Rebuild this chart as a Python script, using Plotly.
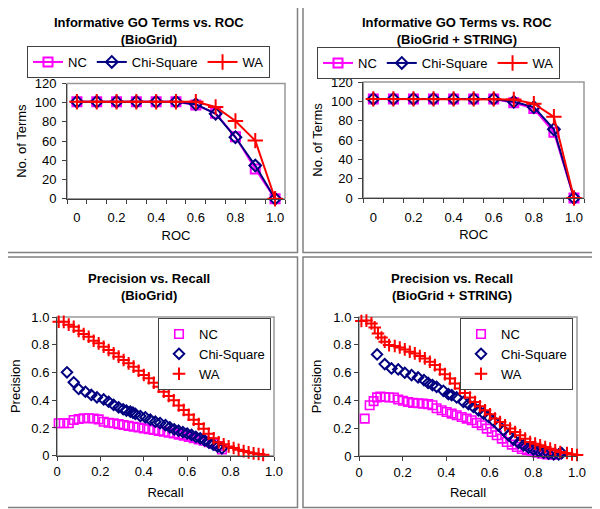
import plotly.graph_objects as go

# ---------------- data ----------------
roc = [0.0, 0.1, 0.2, 0.3, 0.4, 0.5, 0.6, 0.7, 0.8, 0.9, 1.0]
roc_tickvals = [0.0, 0.2, 0.4, 0.6, 0.8, 1.0]
roc_ticktext = ["0", "0.2", "0.4", "0.6", "0.8", "1.0"]
roc_boundaries = [-0.05, 0.05, 0.15, 0.25, 0.35, 0.45, 0.55, 0.65, 0.75, 0.85, 0.95, 1.05]

terms_nc_bg = [101, 101, 101, 101, 101, 101, 97.5, 89, 64.5, 31, 0]
terms_chi_bg = [101, 101, 101, 101, 101, 101, 98.5, 88.5, 64, 34.5, 0]
terms_wa_bg = [101, 101, 101, 101, 101, 101, 101, 95.5, 81, 60.5, 0]

terms_nc_bs = [102.5, 102.5, 102.5, 102.5, 102.5, 102.5, 102.5, 98.5, 92.5, 68, 0]
terms_chi_bs = [102.5, 102.5, 102.5, 102.5, 102.5, 102.5, 102.5, 99.5, 94, 71, 0]
terms_wa_bs = [102.5, 102.5, 102.5, 102.5, 102.5, 102.5, 102.5, 102, 97.5, 84, 0]

pr_tickvals = [0.0, 0.2, 0.4, 0.6, 0.8, 1.0]
pr_ticktext = ["0", "0.2", "0.4", "0.6", "0.8", "1.0"]

# Precision vs Recall (BioGrid)
wa_bg_recall = [0.008, 0.031, 0.054, 0.077, 0.100, 0.123, 0.146, 0.169, 0.192, 0.215, 0.238,
                0.261, 0.284, 0.307, 0.330, 0.353, 0.376, 0.400, 0.423, 0.446, 0.469, 0.492,
                0.515, 0.538, 0.561, 0.584, 0.607, 0.630, 0.653, 0.676, 0.699, 0.722, 0.745,
                0.768, 0.791, 0.814, 0.837, 0.860, 0.883, 0.906, 0.929, 0.950]
wa_bg_precision = [0.966, 0.965, 0.945, 0.930, 0.900, 0.877, 0.858, 0.829, 0.810, 0.786, 0.762,
                   0.738, 0.714, 0.690, 0.666, 0.642, 0.613, 0.582, 0.558, 0.526, 0.497, 0.461,
                   0.430, 0.400, 0.362, 0.330, 0.295, 0.260, 0.228, 0.195, 0.158, 0.125, 0.097,
                   0.082, 0.067, 0.055, 0.042, 0.033, 0.024, 0.017, 0.012, 0.006]
chi_bg_recall = [0.046, 0.077, 0.100, 0.131, 0.158, 0.184, 0.215, 0.238, 0.261, 0.284, 0.305,
                 0.320, 0.338, 0.350, 0.361, 0.384, 0.407, 0.430, 0.453, 0.475, 0.500, 0.520,
                 0.540, 0.560, 0.580, 0.600, 0.620, 0.640, 0.660, 0.680, 0.700, 0.720, 0.740, 0.760]
chi_bg_precision = [0.601, 0.529, 0.481, 0.461, 0.438, 0.421, 0.406, 0.389, 0.366, 0.349, 0.335,
                    0.325, 0.317, 0.310, 0.301, 0.286, 0.277, 0.260, 0.245, 0.235, 0.220, 0.205,
                    0.190, 0.180, 0.170, 0.160, 0.150, 0.135, 0.125, 0.110, 0.095, 0.080, 0.065, 0.053]
nc_bg_recall = [0.008, 0.031, 0.054, 0.077, 0.100, 0.123, 0.146, 0.169, 0.192, 0.215, 0.238,
                0.261, 0.284, 0.307, 0.330, 0.353, 0.376, 0.400, 0.423, 0.446, 0.469, 0.492,
                0.515, 0.538, 0.561, 0.584, 0.607, 0.630, 0.653, 0.676, 0.699, 0.722, 0.745, 0.760]
nc_bg_precision = [0.234, 0.234, 0.234, 0.257, 0.265, 0.270, 0.270, 0.268, 0.262, 0.245, 0.238,
                   0.234, 0.228, 0.221, 0.215, 0.209, 0.203, 0.197, 0.191, 0.185, 0.179, 0.173,
                   0.166, 0.160, 0.152, 0.145, 0.136, 0.127, 0.118, 0.108, 0.097, 0.085, 0.070, 0.045]

# Precision vs Recall (BioGrid + STRING)
wa_bs_recall = [0.011, 0.034, 0.057, 0.072, 0.087, 0.103, 0.118, 0.138, 0.164, 0.187, 0.210,
                0.233, 0.256, 0.279, 0.302, 0.325, 0.348, 0.371, 0.394, 0.417, 0.440, 0.463,
                0.486, 0.509, 0.532, 0.555, 0.578, 0.601, 0.624, 0.647, 0.670, 0.693, 0.716,
                0.739, 0.762, 0.785, 0.808, 0.831, 0.854, 0.877, 0.900, 0.923, 0.954, 0.977, 1.000]
wa_bs_precision = [0.971, 0.974, 0.954, 0.925, 0.882, 0.853, 0.822, 0.798, 0.791, 0.781, 0.767,
                   0.750, 0.738, 0.719, 0.702, 0.678, 0.654, 0.623, 0.589, 0.558, 0.522, 0.486,
                   0.454, 0.421, 0.389, 0.358, 0.329, 0.300, 0.269, 0.245, 0.221, 0.197, 0.173,
                   0.149, 0.125, 0.101, 0.089, 0.077, 0.065, 0.053, 0.041, 0.029, 0.022, 0.012, 0.007]
chi_bs_recall = [0.083, 0.118, 0.149, 0.180, 0.210, 0.241, 0.271, 0.298, 0.317, 0.337, 0.356,
                 0.387, 0.410, 0.425, 0.448, 0.479, 0.502, 0.525, 0.548, 0.571, 0.594, 0.617,
                 0.640, 0.663, 0.686, 0.709, 0.732, 0.755, 0.778, 0.800, 0.824, 0.847, 0.870,
                 0.893, 0.916, 0.930]
chi_bs_precision = [0.731, 0.661, 0.630, 0.623, 0.599, 0.582, 0.565, 0.546, 0.526, 0.510, 0.498,
                    0.469, 0.445, 0.438, 0.421, 0.389, 0.373, 0.353, 0.329, 0.305, 0.281, 0.252,
                    0.221, 0.185, 0.149, 0.118, 0.094, 0.077, 0.060, 0.046, 0.034, 0.024, 0.017,
                    0.012, 0.012, 0.020]
nc_bs_recall = [0.026, 0.049, 0.067, 0.083, 0.098, 0.118, 0.138, 0.160, 0.180, 0.202, 0.225,
                0.248, 0.271, 0.294, 0.317, 0.337, 0.356, 0.379, 0.402, 0.425, 0.448, 0.471,
                0.494, 0.517, 0.540, 0.563, 0.586, 0.609, 0.632, 0.655, 0.678, 0.701, 0.724,
                0.747, 0.770, 0.793, 0.816, 0.839, 0.862, 0.885, 0.908]
nc_bs_precision = [0.269, 0.365, 0.395, 0.422, 0.427, 0.425, 0.421, 0.421, 0.406, 0.397, 0.389,
                   0.382, 0.380, 0.377, 0.373, 0.365, 0.343, 0.329, 0.317, 0.305, 0.293, 0.281,
                   0.269, 0.257, 0.238, 0.221, 0.197, 0.173, 0.149, 0.125, 0.101, 0.082, 0.065,
                   0.050, 0.041, 0.031, 0.024, 0.017, 0.012, 0.010, 0.012]

# ---------------- styling ----------------
# The page body has a default 8px margin, so the figure is made 8px smaller
# and all target pixel positions are shifted by that offset.
PAGE_W, PAGE_H = 600, 509
OFF = 8
W, H = PAGE_W - OFF, PAGE_H - OFF
FONT = "Liberation Sans, Arial, sans-serif"
MAGENTA = "#FF00FF"
NAVY = "#000080"
RED = "#FF0000"
AXIS = "#404040"
FRAME = "#999999"
PANEL = "#808080"


def px_x(v):
    return (v - OFF) / W


def px_y(v):
    return 1 - (v - OFF) / H


fig = go.Figure()

top_sets = [
    ("x", "y", "legend", terms_nc_bg, terms_chi_bg, terms_wa_bg),
    ("x2", "y2", "legend2", terms_nc_bs, terms_chi_bs, terms_wa_bs),
]
for xa, ya, lg, nc, chi, wa in top_sets:
    fig.add_trace(go.Scatter(x=roc, y=nc, name="NC", mode="lines+markers", xaxis=xa, yaxis=ya,
                             legend=lg, cliponaxis=False,
                             line=dict(color=MAGENTA, width=2),
                             marker=dict(symbol="square-open", size=9, color=MAGENTA,
                                         line=dict(width=2, color=MAGENTA))))
    fig.add_trace(go.Scatter(x=roc, y=chi, name="Chi-Square", mode="lines+markers", xaxis=xa, yaxis=ya,
                             legend=lg, cliponaxis=False,
                             line=dict(color=NAVY, width=2),
                             marker=dict(symbol="diamond-open", size=9, color=NAVY,
                                         line=dict(width=2, color=NAVY))))
    fig.add_trace(go.Scatter(x=roc, y=wa, name="WA", mode="lines+markers", xaxis=xa, yaxis=ya,
                             legend=lg, cliponaxis=False,
                             line=dict(color=RED, width=2),
                             marker=dict(symbol="cross-thin-open", size=11, color=RED,
                                         line=dict(width=2, color=RED))))

bot_sets = [
    ("x3", "y3", "legend3", nc_bg_recall, nc_bg_precision, chi_bg_recall, chi_bg_precision,
     wa_bg_recall, wa_bg_precision),
    ("x4", "y4", "legend4", nc_bs_recall, nc_bs_precision, chi_bs_recall, chi_bs_precision,
     wa_bs_recall, wa_bs_precision),
]
for xa, ya, lg, ncr, ncp, chr_, chp, war, wap in bot_sets:
    fig.add_trace(go.Scatter(x=ncr, y=ncp, name="NC", mode="markers", xaxis=xa, yaxis=ya,
                             legend=lg, cliponaxis=False,
                             marker=dict(symbol="square-open", size=8.5, color=MAGENTA,
                                         line=dict(width=1.6, color=MAGENTA))))
    fig.add_trace(go.Scatter(x=chr_, y=chp, name="Chi-Square", mode="markers", xaxis=xa, yaxis=ya,
                             legend=lg, cliponaxis=False,
                             marker=dict(symbol="diamond-open", size=8, color=NAVY,
                                         line=dict(width=2, color=NAVY))))
    fig.add_trace(go.Scatter(x=war, y=wap, name="WA", mode="markers", xaxis=xa, yaxis=ya,
                             legend=lg, cliponaxis=False,
                             marker=dict(symbol="cross-thin-open", size=9, color=RED,
                                         line=dict(width=2, color=RED))))

tickfont = dict(family=FONT, size=13, color="#000000")
titlefont = dict(family=FONT, size=13, color="#000000")

common_axis = dict(showline=True, linecolor=AXIS, linewidth=1, showgrid=False, zeroline=False,
                   ticks="outside", ticklen=4, tickcolor=AXIS, tickfont=tickfont,
                   automargin=False)

dom = {
    "1": ([67, 285], [83.5, 198.7]),
    "2": ([363.3, 584], [82, 198]),
    "3": ([57, 274], [317, 455.7]),
    "4": ([359, 577], [317, 456]),
}


def xd(k):
    a, b = dom[k][0]
    return [px_x(a), px_x(b)]


def yd(k):
    a, b = dom[k][1]
    return [px_y(b), px_y(a)]


top_x = dict(common_axis, range=[-0.05, 1.05], tickvals=roc_tickvals, ticktext=roc_ticktext,
             ticks="", ticklabelstandoff=7,
             minor=dict(tickvals=roc_boundaries, ticks="outside", ticklen=4,
                        tickcolor=AXIS, showgrid=False),
             title=dict(text="ROC", font=titlefont, standoff=6))
top_y = dict(common_axis, range=[0, 120], dtick=20, tick0=0, ticklabelstandoff=3,
             title=dict(text="No. of Terms", font=titlefont, standoff=5))
bot_x = dict(common_axis, range=[0, 1], tickvals=pr_tickvals, ticktext=pr_ticktext,
             title=dict(text="Recall", font=titlefont, standoff=9))
bot_y = dict(common_axis, range=[0, 1], tickvals=pr_tickvals, ticktext=pr_ticktext,
             title=dict(text="Precision", font=titlefont, standoff=8))

fig.update_layout(
    xaxis=dict(top_x, domain=xd("1"), anchor="y"),
    yaxis=dict(top_y, domain=yd("1"), anchor="x"),
    xaxis2=dict(top_x, domain=xd("2"), anchor="y2"),
    yaxis2=dict(top_y, domain=yd("2"), anchor="x2"),
    xaxis3=dict(bot_x, domain=xd("3"), anchor="y3"),
    yaxis3=dict(bot_y, domain=yd("3"), anchor="x3"),
    xaxis4=dict(bot_x, domain=xd("4"), anchor="y4"),
    yaxis4=dict(bot_y, domain=yd("4"), anchor="x4"),
)

legend_common = dict(font=dict(family=FONT, size=13, color="#000000"), bgcolor="#FFFFFF",
                     bordercolor=AXIS, borderwidth=1, xanchor="left", yanchor="top")
fig.update_layout(
    legend=dict(legend_common, orientation="h", x=px_x(27), y=px_y(46)),
    legend2=dict(legend_common, orientation="h", x=px_x(317), y=px_y(47)),
    legend3=dict(legend_common, orientation="v", x=px_x(158), y=px_y(318), tracegroupgap=0),
    legend4=dict(legend_common, orientation="v", x=px_x(460), y=px_y(318), tracegroupgap=0),
)

titles = [
    ("Informative GO Terms vs. ROC<br>(BioGrid)", 149, 31),
    ("Informative GO Terms vs. ROC<br>(BioGrid + STRING)", 457, 31),
    ("Precision vs. Recall<br>(BioGrid)", 149, 287),
    ("Precision vs. Recall<br>(BioGrid + STRING)", 452, 287),
]
for text, cx, cy in titles:
    fig.add_annotation(text="<b>" + text + "</b>", x=px_x(cx), y=px_y(cy), xref="paper", yref="paper",
                       xanchor="center", yanchor="middle", showarrow=False,
                       font=dict(family=FONT, size=13, color="#000000"))

shapes = []
for (x0, y0, x1, y1) in [(1, 1, 297.5, 252.5), (303, 1, 598.5, 252.5),
                         (2, 257, 297.5, 507.5), (303, 257, 598.5, 507.5)]:
    shapes.append(dict(type="rect", xref="paper", yref="paper", x0=px_x(x0), x1=px_x(x1),
                       y0=px_y(y1), y1=px_y(y0), line=dict(color=PANEL, width=1.5),
                       fillcolor="rgba(0,0,0,0)", layer="below"))
for k in ["", "2", "3", "4"]:
    shapes.append(dict(type="rect", xref="x%s domain" % k, yref="y%s domain" % k,
                       x0=0, x1=1, y0=0, y1=1, line=dict(color=FRAME, width=1.5),
                       fillcolor="rgba(0,0,0,0)", layer="below"))
fig.update_layout(shapes=shapes)

fig.update_layout(width=W, height=H, margin=dict(l=0, r=0, t=0, b=0, pad=0, autoexpand=False),
                  paper_bgcolor="#FFFFFF", plot_bgcolor="#FFFFFF",
                  font=dict(family=FONT, size=13, color="#000000"))

fig.write_html("out.html")
